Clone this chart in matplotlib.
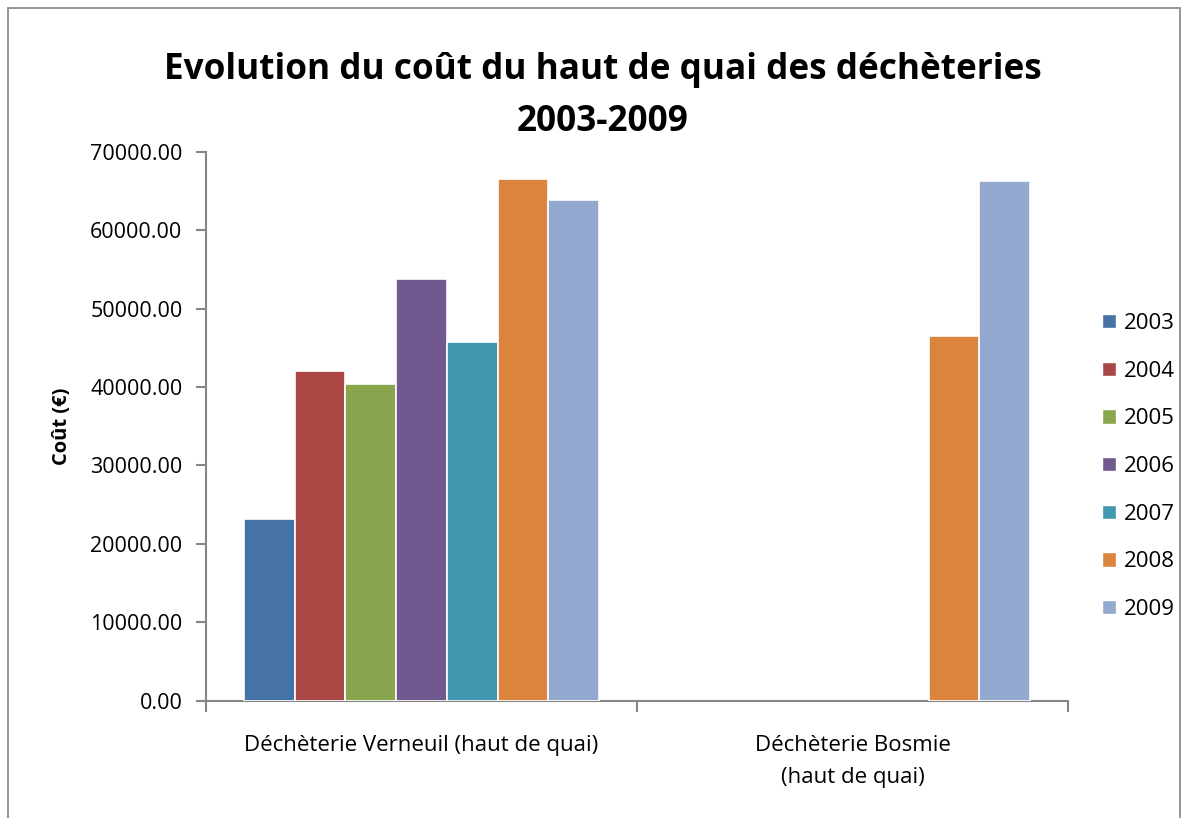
import numpy as np
import matplotlib
matplotlib.use("Agg")
import matplotlib.pyplot as plt
from matplotlib.patches import Rectangle, Patch

categories = ["Déchèterie Verneuil (haut de quai)", "Déchèterie Bosmie\n(haut de quai)"]
years = ["2003", "2004", "2005", "2006", "2007", "2008", "2009"]
verneuil = [23200, 42000, 40400, 53800, 45700, 66500, 63800]
bosmie = [np.nan, np.nan, np.nan, np.nan, np.nan, 46500, 66300]
colors = ["#4572A7", "#AA4643", "#89A54E", "#71588F", "#4198AF", "#DB843D", "#93A9CF"]

title = "Evolution du coût du haut de quai des déchèteries\n2003-2009"
ylabel = "Coût (€)"

FONT = ["Open Sans", "DejaVu Sans"]
plt.rcParams["font.family"] = FONT

fig = plt.figure(figsize=(11.84, 8.18), dpi=100)
ax = fig.add_axes([206/1184, 1-700.7/818, (1068-206)/1184, (700.7-151.7)/818])

# chart border
fig.patches.append(Rectangle((8/1184, -0.01), (1180-8)/1184, 1-8/818+0.01,
                             transform=fig.transFigure, fill=False,
                             edgecolor="#8c8c8c", linewidth=1.3))

bw = 0.1176
x = np.arange(len(categories))
for i, yr in enumerate(years):
    vals = [verneuil[i], bosmie[i]]
    ax.bar(x + (i - 3) * bw, vals, width=bw, color=colors[i],
           edgecolor="white", linewidth=1.2, label=yr, zorder=3)

ax.set_xlim(-0.5, 1.5)
ax.set_ylim(0, 70000)
ax.set_yticks(np.arange(0, 70001, 10000))
ax.set_yticklabels([f"{v:.2f}" for v in np.arange(0, 70001, 10000)], fontsize=15.5)
ax.set_xticks(x)
ax.set_xticklabels(categories, fontsize=16, linespacing=1.65)
ax.set_xticks([-0.5, 0.5, 1.5], minor=True)
ax.tick_params(axis="x", which="major", length=0, pad=25)
ax.tick_params(axis="x", which="minor", length=8, width=1.5, color="#868686", direction="out")
ax.tick_params(axis="y", length=7, width=1.5, color="#868686", pad=10)
for s in ["top", "right"]:
    ax.spines[s].set_visible(False)
for s in ["left", "bottom"]:
    ax.spines[s].set_color("#868686")
    ax.spines[s].set_linewidth(1.5)

ax.set_ylabel(ylabel, fontsize=14.5, fontweight="bold")
ax.yaxis.set_label_coords((72 - 206) / (1068 - 206), 0.5)

fig.text(603/1184, 1-96/818, title, ha="center", va="center", fontsize=25.3,
         fontweight="bold", linespacing=1.6)

handles = [Patch(facecolor=c, edgecolor="white") for c in colors]
fig.legend(handles, years, loc="center left", bbox_to_anchor=(1093/1184, 1-466.5/818),
           frameon=False, fontsize=16, handlelength=0.62, handleheight=0.62,
           handletextpad=0.35, labelspacing=1.2, borderaxespad=0)

fig.savefig("out.png", dpi=100)
